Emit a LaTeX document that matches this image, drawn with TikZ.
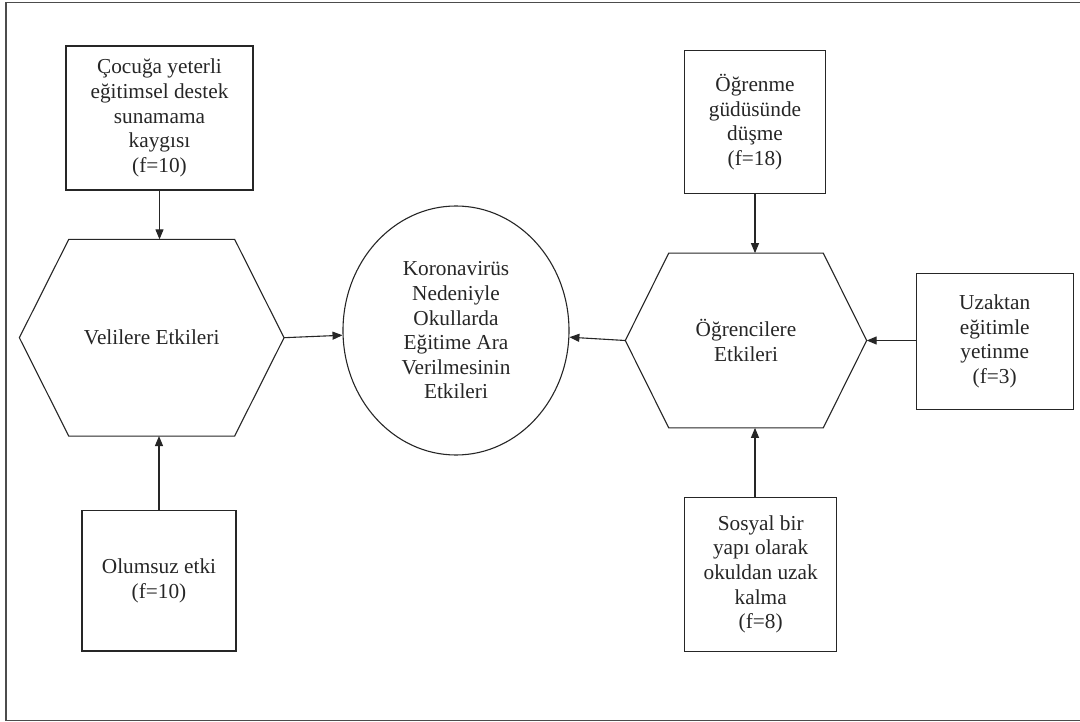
\documentclass[tikz,border=0pt]{standalone}
\usepackage{fontspec}
\setmainfont{Liberation Serif}
\usetikzlibrary{arrows.meta,calc,shapes.geometric}
\newcommand\dgfont{\fontsize{21.3}{24.6}\selectfont}
\colorlet{linec}{black!85}
\colorlet{txtc}{black!85}
\colorlet{framec}{black!70}
\begin{document}
\begin{tikzpicture}[x=1pt,y=-1pt,
  fbox/.style={draw=linec,line width=1.1pt,inner sep=0pt,align=center,font=\dgfont,text=txtc},
  hexnode/.style={inner sep=0pt,outer sep=0pt,align=center,font=\dgfont,text=txtc},
  hexline/.style={draw=linec,line width=1.1pt,line join=miter},
  conn/.style={draw=linec,line width=1.1pt,-{Triangle[length=10pt,width=8pt]}}]
\useasboundingbox (0,0) rectangle (1080,722);
\draw[framec,line width=1.6pt] (1082,2.5) -- (6,2.5) -- (6,720.5) -- (1082,720.5);

% left side
\node[fbox,minimum width=187pt,minimum height=144pt] (b1) at (159.5,118)
  {Çocuğa yeterli\\eğitimsel destek\\sunamama\\kaygısı\\(f=10)};
\node[hexnode,minimum width=264.7pt,minimum height=196.7pt] (hL) at (151.7,337.7) {Velilere Etkileri};
\draw[hexline] ($(hL.north west)+(49.4,0)$) -- ($(hL.north east)+(-49.4,0)$) -- (hL.east)
  -- ($(hL.south east)+(-49.4,0)$) -- ($(hL.south west)+(49.4,0)$) -- (hL.west) -- cycle;
\node[fbox,minimum width=154pt,minimum height=140.3pt] (b4) at (159,580.8)
  {Olumsuz etki\\(f=10)};

% centre
\node[draw=linec,line width=1.1pt,ellipse,inner sep=0pt,minimum width=226pt,minimum height=249pt,
  align=center,font=\dgfont,text=txtc] (c) at (456,330.5)
  {Koronavirüs\\Nedeniyle\\Okullarda\\Eğitime Ara\\Verilmesinin\\Etkileri};

% right side
\node[fbox,minimum width=140.6pt,minimum height=142.6pt] (b2) at (755,122)
  {Öğrenme\\güdüsünde\\düşme\\(f=18)};
\node[hexnode,minimum width=241.4pt,minimum height=174.7pt] (hR) at (746,340.5) {Öğrencilere\\Etkileri};
\draw[hexline] ($(hR.north west)+(43.4,0)$) -- ($(hR.north east)+(-43.4,0)$) -- (hR.east)
  -- ($(hR.south east)+(-43.4,0)$) -- ($(hR.south west)+(43.4,0)$) -- (hR.west) -- cycle;
\node[fbox,minimum width=157.3pt,minimum height=136pt] (b3) at (994.7,341.3)
  {Uzaktan\\eğitimle\\yetinme\\(f=3)};
\node[fbox,minimum width=152pt,minimum height=154pt] (b5) at (760.7,574.3)
  {Sosyal bir\\yapı olarak\\okuldan uzak\\kalma\\(f=8)};

% connectors
\draw[conn] (b1.south) -- (b1.south |- hL.north);
\draw[conn] (b4.north) -- (b4.north |- hL.south);
\draw[conn] (hL.east) -- (c);
\draw[conn] (hR.west) -- (c);
\draw[conn] (b2.south) -- (b2.south |- hR.north);
\draw[conn] (b2.south |- b5.north) -- (b2.south |- hR.south);
\draw[conn] (b3.west |- hR.east) -- (hR.east);
\end{tikzpicture}
\end{document}
